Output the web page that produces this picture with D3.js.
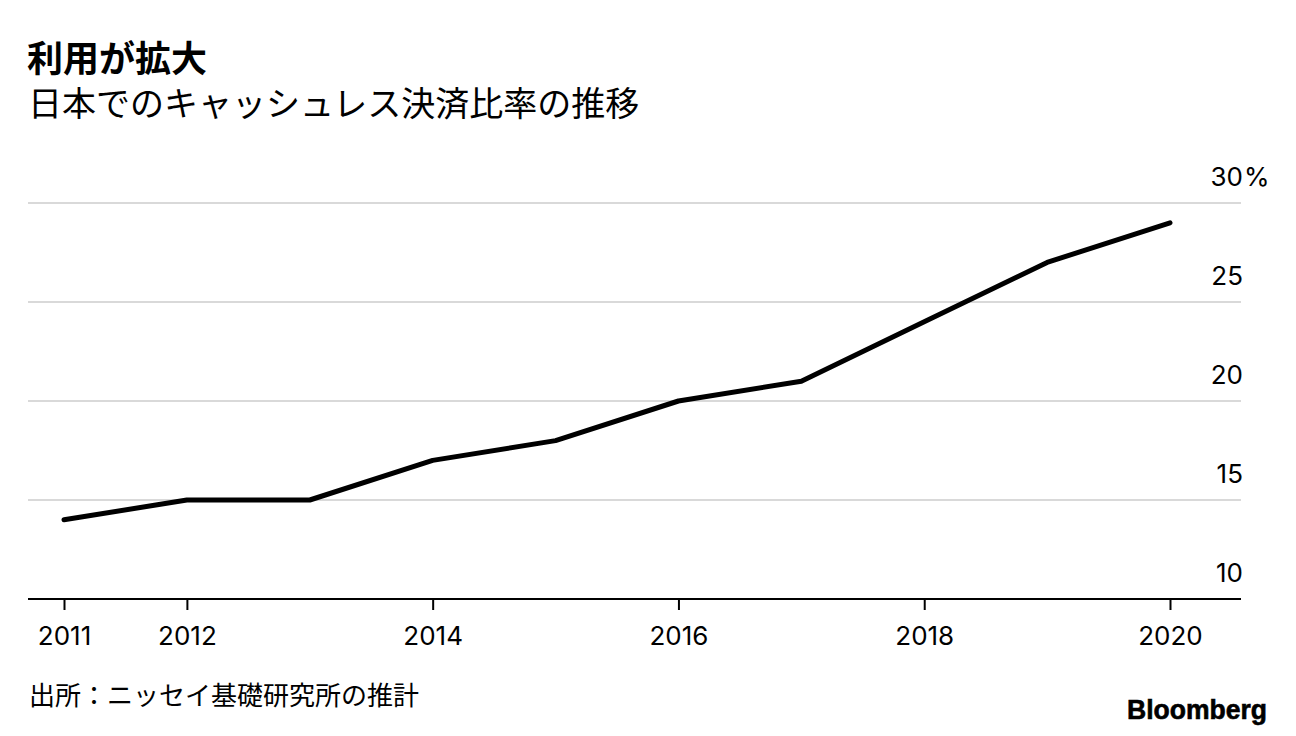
<!DOCTYPE html>
<html>
<head>
<meta charset="utf-8">
<script src="https://cdn.jsdelivr.net/npm/d3@7"></script>
<style>
  html, body { margin: 0; padding: 0; background: #fff; }
  svg { display: block; }
  .cjk { font-family: "Noto Sans CJK JP", sans-serif; }
  .num { font-family: Inter, "Liberation Sans", sans-serif; }
</style>
</head>
<body>
<svg id="chart" width="1296" height="736"></svg>
<script>
const years = [2011, 2012, 2013, 2014, 2015, 2016, 2017, 2018, 2019, 2020];
const cashlessRatio = [14, 15, 15, 17, 18, 20, 21, 24, 27, 29];
const xTickYears = [2011, 2012, 2014, 2016, 2018, 2020];
const yTicks = [10, 15, 20, 25, 30];
const titleText = "利用が拡大";
const subtitleText = "日本でのキャッシュレス決済比率の推移";
const sourceText = "出所：ニッセイ基礎研究所の推計";
const brandText = "Bloomberg";

const svg = d3.select("#chart");

const x = d3.scaleLinear().domain([2011, 2020]).range([64, 1170]);
const y = d3.scaleLinear().domain([10, 30]).range([599, 203]);
const left = 28, right = 1241;

// Title & subtitle
svg.append("text").attr("class", "cjk")
  .attr("x", 27).attr("y", 72)
  .attr("font-size", 36).attr("font-weight", 700).attr("fill", "#000")
  .text(titleText);
svg.append("text").attr("class", "cjk")
  .attr("x", 28).attr("y", 116)
  .attr("font-size", 34).attr("font-weight", 400).attr("fill", "#000")
  .text(subtitleText);

// Gridlines
svg.append("g")
  .selectAll("line")
  .data(yTicks.filter(d => d > 10))
  .join("line")
  .attr("x1", left).attr("x2", right)
  .attr("y1", d => y(d)).attr("y2", d => y(d))
  .attr("stroke", "#d9d9d9").attr("stroke-width", 2);

// Y labels (right side, above gridlines)
const yl = svg.append("g").attr("class", "num");
yl.selectAll("text.yl")
  .data(yTicks)
  .join("text")
  .attr("class", "yl")
  .attr("x", 1243)
  .attr("y", d => y(d) - 17)
  .attr("text-anchor", "end")
  .attr("font-size", 26)
  .attr("fill", "#000")
  .text(d => d);
yl.append("text")
  .attr("x", 1244).attr("y", y(30) - 17)
  .attr("font-size", 26).attr("fill", "#000")
  .text("%");

// X axis
const xAxis = d3.axisBottom(x)
  .tickValues(xTickYears)
  .tickFormat(d3.format("d"))
  .tickSize(11)
  .tickPadding(17);
const gx = svg.append("g")
  .attr("transform", `translate(0,${y(10)})`)
  .call(xAxis);
gx.select(".domain").remove();
gx.selectAll(".tick line").attr("stroke", "#000").attr("stroke-width", 2);
gx.selectAll(".tick text")
  .attr("class", "num")
  .attr("font-family", "Inter, 'Liberation Sans', sans-serif")
  .attr("font-size", 26).attr("fill", "#000");
svg.append("line")
  .attr("x1", left).attr("x2", right)
  .attr("y1", y(10)).attr("y2", y(10))
  .attr("stroke", "#000").attr("stroke-width", 2);

// Line
const line = d3.line()
  .x((d, i) => x(years[i]))
  .y(d => y(d));
svg.append("path")
  .datum(cashlessRatio)
  .attr("d", line)
  .attr("fill", "none")
  .attr("stroke", "#000")
  .attr("stroke-width", 5)
  .attr("stroke-linejoin", "round")
  .attr("stroke-linecap", "round");

// Source
svg.append("text").attr("class", "cjk")
  .attr("x", 29).attr("y", 705)
  .attr("font-size", 26).attr("fill", "#000")
  .text(sourceText);

// Brand
svg.append("text")
  .attr("x", 1127).attr("y", 719)
  .attr("font-family", "'Liberation Sans', Arial, sans-serif")
  .attr("font-size", 27).attr("font-weight", 700)
  .attr("textLength", 140).attr("lengthAdjust", "spacingAndGlyphs")
  .attr("stroke", "#000").attr("stroke-width", 0.6)
  .attr("fill", "#000")
  .text(brandText);
</script>
</body>
</html>
